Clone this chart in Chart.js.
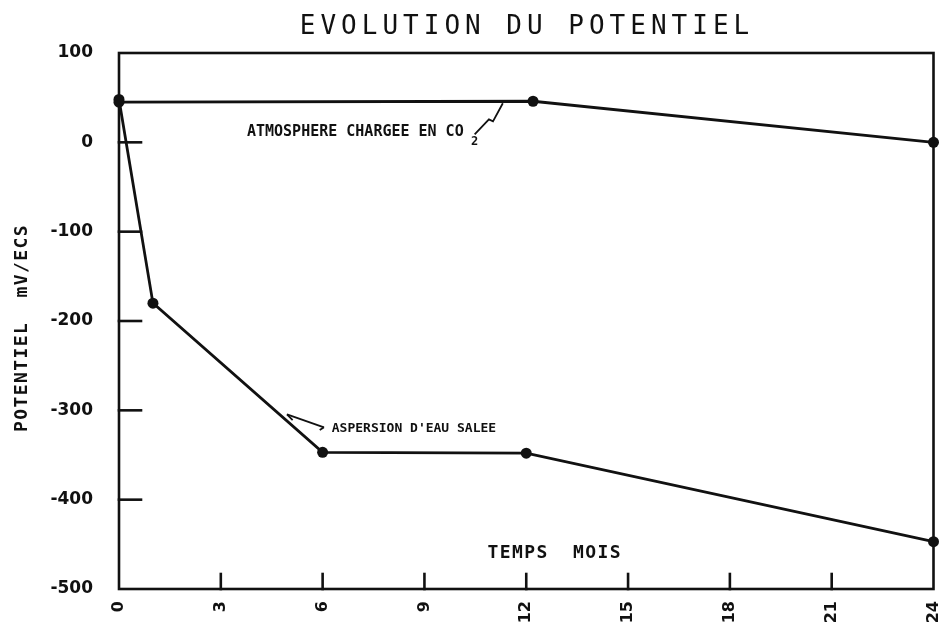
<!DOCTYPE html>
<html>
<head>
<meta charset="utf-8">
<title>Evolution du potentiel</title>
<script src="https://cdn.jsdelivr.net/npm/chart.js@4.4.1/dist/chart.umd.min.js"></script>
<style>
  html, body { margin: 0; padding: 0; background: #fff; }
  #potentielChart { display: block; }
</style>
</head>
<body>
<canvas id="potentielChart" width="939" height="635"></canvas>
<script>
// temps en mois / potentiel en mV/ECS
const moisCO2 = [0, 12.2, 24];
const potentielCO2 = [45, 46, 0];

const moisSalee = [0, 1, 6, 12, 24];
const potentielSalee = [48, -180, -347, -348, -447];

const xTicks = [0, 3, 6, 9, 12, 15, 18, 21, 24];
const yTicks = [100, 0, -100, -200, -300, -400, -500];

const titre = "EVOLUTION DU POTENTIEL";
const titreY = "POTENTIEL  mV/ECS";
const titreX = "TEMPS  MOIS";
const labelCO2 = "ATMOSPHERE CHARGEE EN CO";
const labelSalee = "ASPERSION D'EAU SALEE";

const INK = "#111";
const MONO = "'DejaVu Sans Mono', 'Liberation Mono', monospace";
const SANS = "'DejaVu Sans', 'Liberation Sans', sans-serif";

function toPoints(xs, ys) {
  return xs.map((x, i) => ({ x: x, y: ys[i] }));
}

function seg(ctx, x1, y1, x2, y2) {
  ctx.beginPath();
  ctx.moveTo(x1, y1);
  ctx.lineTo(x2, y2);
  ctx.stroke();
}

// cadre + graduations interieures, style table tracante
const cadre = {
  id: "cadre",
  beforeDatasetsDraw(chart) {
    const { ctx, chartArea: a, scales: { x, y } } = chart;
    ctx.save();
    ctx.strokeStyle = INK;
    ctx.lineWidth = 2.6;
    ctx.lineCap = "square";
    ctx.strokeRect(a.left, a.top, a.right - a.left, a.bottom - a.top);
    yTicks.forEach(v => {
      if (v < 100 && v > -500) {
        const py = y.getPixelForValue(v);
        seg(ctx, a.left, py, a.left + 22, py);
      }
    });
    xTicks.forEach(v => {
      if (v > 0 && v < 24) {
        const px = x.getPixelForValue(v);
        seg(ctx, px, a.bottom, px, a.bottom - 15);
      }
    });
    ctx.restore();
  },
  afterDraw(chart) {
    const { ctx, scales: { x, y } } = chart;
    const P = (mx, my) => [x.getPixelForValue(mx), y.getPixelForValue(my)];
    ctx.save();
    ctx.fillStyle = INK;
    ctx.strokeStyle = INK;
    ctx.textBaseline = "middle";

    // titre
    ctx.font = "26px " + MONO;
    ctx.letterSpacing = "5px";
    ctx.textAlign = "center";
    ctx.fillText(titre, 527, 27);

    // titre axe Y
    ctx.font = "bold 18px " + MONO;
    ctx.letterSpacing = "1.4px";
    ctx.save();
    ctx.translate(22, 328);
    ctx.rotate(-Math.PI / 2);
    ctx.fillText(titreY, 0, 0);
    ctx.restore();

    // titre axe X
    const [tx, ty] = P(12.84, -460);
    ctx.fillText(titreX, tx, ty);

    // etiquette CO2 + renvoi en zigzag
    ctx.letterSpacing = "0px";
    ctx.textAlign = "left";
    ctx.font = "bold 15px " + MONO;
    const [ax, ay] = P(3.77, 11.2);
    ctx.fillText(labelCO2, ax, ay);
    ctx.font = "bold 12px " + MONO;
    const [sx, sy] = P(10.37, 0);
    ctx.fillText("2", sx, sy);

    ctx.lineWidth = 1.8;
    ctx.beginPath();
    [[10.48, 9], [10.9, 25.7], [11.02, 23.5], [11.31, 43.7]].forEach((p, i) => {
      const [px, py] = P(p[0], p[1]);
      if (i === 0) ctx.moveTo(px, py); else ctx.lineTo(px, py);
    });
    ctx.stroke();

    // etiquette eau salee + fleche
    ctx.font = "bold 13px " + MONO;
    const [bx, by] = P(6.27, -320);
    ctx.fillText(labelSalee, bx, by);

    const [hx, hy] = P(4.95, -304.5);
    const [qx, qy] = P(6.04, -319);
    ctx.lineWidth = 1.8;
    seg(ctx, qx, qy, hx, hy);
    const ang = Math.atan2(qy - hy, qx - hx);
    seg(ctx, hx, hy, hx + 8 * Math.cos(ang + 0.45), hy + 8 * Math.sin(ang + 0.45));
    seg(ctx, qx, qy, qx - 5 * Math.cos(ang - 0.9), qy - 5 * Math.sin(ang - 0.9));

    ctx.restore();
  }
};

const ctx = document.getElementById("potentielChart").getContext("2d");

const lineStyle = {
  showLine: true,
  borderColor: INK,
  borderWidth: 2.8,
  pointRadius: 5.5,
  pointBackgroundColor: INK,
  pointBorderWidth: 0,
  clip: false
};

new Chart(ctx, {
  type: "scatter",
  data: {
    datasets: [
      Object.assign({ label: "Atmosphere chargee en CO2", data: toPoints(moisCO2, potentielCO2) }, lineStyle),
      Object.assign({ label: "Aspersion d'eau salee", data: toPoints(moisSalee, potentielSalee) }, lineStyle)
    ]
  },
  options: {
    responsive: false,
    animation: false,
    devicePixelRatio: 1,
    layout: { padding: { left: 0, right: 5, top: 53, bottom: 0 } },
    plugins: {
      legend: { display: false },
      tooltip: { enabled: false },
      title: { display: false }
    },
    scales: {
      x: {
        type: "linear",
        min: 0,
        max: 24,
        afterBuildTicks: s => { s.ticks = xTicks.map(v => ({ value: v })); },
        afterFit: s => { s.height = 46; s.paddingLeft = 0; s.paddingRight = 0; },
        grid: { display: false, drawTicks: false },
        border: { display: false },
        ticks: {
          minRotation: 90,
          maxRotation: 90,
          padding: 12,
          color: INK,
          font: { family: SANS, size: 16, weight: "bold" }
        }
      },
      y: {
        type: "linear",
        min: -500,
        max: 100,
        afterBuildTicks: s => { s.ticks = yTicks.map(v => ({ value: v })); },
        afterFit: s => { s.width = 119; s.paddingTop = 0; s.paddingBottom = 0; },
        grid: { display: false, drawTicks: false },
        border: { display: false },
        ticks: {
          padding: 26,
          color: INK,
          font: { family: SANS, size: 17, weight: "bold" }
        }
      }
    }
  },
  plugins: [cadre]
});
</script>
</body>
</html>
